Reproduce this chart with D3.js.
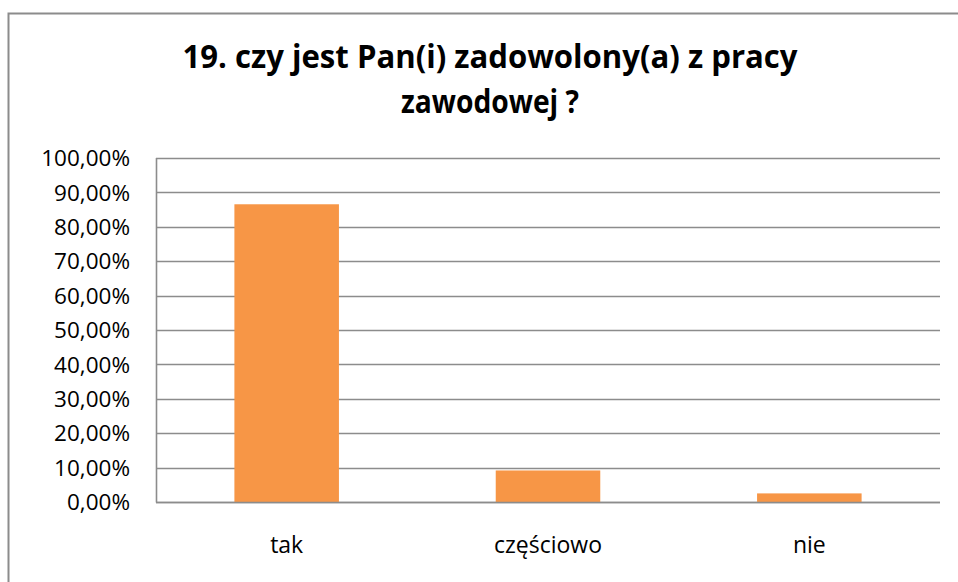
<!DOCTYPE html>
<html>
<head>
<meta charset="utf-8">
<script src="https://cdn.jsdelivr.net/npm/d3@7"></script>
<style>
  body { margin: 0; background: #fff; }
  svg { display: block; }
  text { font-family: "Open Sans", "Noto Sans", sans-serif; fill: #000; }
</style>
</head>
<body>
<svg id="chart" width="958" height="582"></svg>
<script>
// chart data
var titleLines = ["19. czy jest Pan(i) zadowolony(a) z pracy", "zawodowej ?"];
var categories = ["tak", "częściowo", "nie"];
var values = [0.8655, 0.0917, 0.0250];
var yTicks = [0, 0.1, 0.2, 0.3, 0.4, 0.5, 0.6, 0.7, 0.8, 0.9, 1.0];

var width = 958, height = 582;
var margin = {left: 156, right: 18, top: 158, bottom: 80};

var svg = d3.select("#chart");

// outer chart border (only top and left edges show in the frame)
svg.append("rect")
    .attr("x", 8.5)
    .attr("y", 13.5)
    .attr("width", 1000)
    .attr("height", 1000)
    .attr("fill", "none")
    .attr("stroke", "#8c8c8c")
    .attr("stroke-width", 2);

// title, squeezed to the reference width (Calibri is narrow)
var title = svg.append("g").attr("class", "title");
var titleWidths = [615, 178];
var titleBaselines = [68, 113];
titleLines.forEach(function(line, i) {
    title.append("text")
        .attr("x", 490)
        .attr("y", titleBaselines[i])
        .attr("text-anchor", "middle")
        .style("font-weight", "bold")
        .style("font-size", "33px")
        .attr("textLength", titleWidths[i])
        .attr("lengthAdjust", "spacingAndGlyphs")
        .text(line);
});

var x = d3.scaleBand()
    .domain(categories)
    .range([margin.left, width - margin.right])
    .paddingInner(0.6)
    .paddingOuter(0.3);

var y = d3.scaleLinear()
    .domain([0, 1])
    .range([height - margin.bottom, margin.top]);

// gridlines
svg.append("g")
    .attr("class", "grid")
    .selectAll("line")
    .data(yTicks)
    .enter().append("line")
    .attr("x1", margin.left)
    .attr("x2", width - margin.right)
    .attr("y1", function(d) { return Math.round(y(d)) + 0.5; })
    .attr("y2", function(d) { return Math.round(y(d)) + 0.5; })
    .attr("stroke", "#8c8c8c")
    .attr("stroke-width", 1.6);

// bars
svg.append("g")
    .attr("class", "bars")
    .selectAll("rect")
    .data(values)
    .enter().append("rect")
    .attr("x", function(d, i) { return x(categories[i]); })
    .attr("width", x.bandwidth())
    .attr("y", function(d) { return y(d); })
    .attr("height", function(d) { return y(0) - y(d); })
    .attr("fill", "#f79646");

// axis lines over the bars
svg.append("line")
    .attr("x1", margin.left + 0.5)
    .attr("x2", margin.left + 0.5)
    .attr("y1", y(1))
    .attr("y2", y(0) + 0.5)
    .attr("stroke", "#8c8c8c")
    .attr("stroke-width", 1.6);
svg.append("line")
    .attr("x1", margin.left)
    .attr("x2", width - margin.right)
    .attr("y1", Math.round(y(0)) + 0.5)
    .attr("y2", Math.round(y(0)) + 0.5)
    .attr("stroke", "#8c8c8c")
    .attr("stroke-width", 1.6);

// y tick labels
var fmt = function(d) { return d3.format(".2f")(d * 100).replace(".", ",") + "%"; };
svg.append("g")
    .attr("class", "yLabels")
    .selectAll("text")
    .data(yTicks)
    .enter().append("text")
    .attr("x", 130)
    .attr("y", function(d) { return y(d); })
    .attr("dy", "0.36em")
    .attr("text-anchor", "end")
    .style("font-size", "22.5px")
    .text(fmt);

// category labels
svg.append("g")
    .attr("class", "xLabels")
    .selectAll("text")
    .data(categories)
    .enter().append("text")
    .attr("x", function(d) { return x(d) + x.bandwidth() / 2; })
    .attr("y", 553)
    .attr("text-anchor", "middle")
    .style("font-size", "23px")
    .text(function(d) { return d; });
</script>
</body>
</html>
